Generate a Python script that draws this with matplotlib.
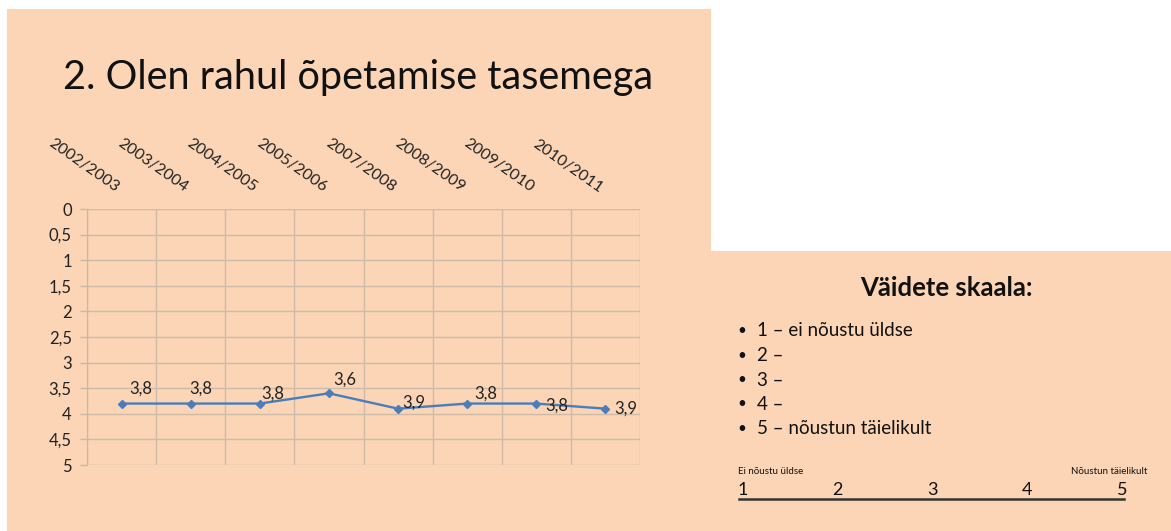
import numpy as np
import matplotlib.pyplot as plt
from matplotlib.patches import Rectangle

# -----------------------------
# Data
# -----------------------------
years = ["2002/2003", "2003/2004", "2004/2005", "2005/2006",
         "2007/2008", "2008/2009", "2009/2010", "2010/2011"]
scores = [3.8, 3.8, 3.8, 3.6, 3.9, 3.8, 3.8, 3.9]
y_ticks = [0, 0.5, 1, 1.5, 2, 2.5, 3, 3.5, 4, 4.5, 5]

scale_title = "Väidete skaala:"
scale_items = ["1 – ei nõustu üldse", "2 –", "3 –", "4 –", "5 – nõustun täielikult"]
scale_nums = ["1", "2", "3", "4", "5"]

# label offsets in points (dx, dy), mimicking Excel placement
label_offsets = [(13.5, 11), (7.5, 11), (9.5, 7), (11.5, 10),
                 (11, 4), (13.5, 7), (15, -1.5), (15, 0)]

W, H = 1171, 531
BG = "#FBD5B5"
FONT = "Lato"
plt.rcParams["font.family"] = [FONT, "DejaVu Sans"]


def fx(x):
    return x / W


def fy(y):
    return 1 - y / H


fig = plt.figure(figsize=(W / 100, H / 100), dpi=100)
fig.patch.set_facecolor("white")

# slide panels
fig.patches.append(Rectangle((fx(7), fy(531)), fx(711) - fx(7), fy(9) - fy(531),
                             transform=fig.transFigure, facecolor=BG, edgecolor="none", zorder=-5))
fig.patches.append(Rectangle((fx(711), fy(531)), fx(1171) - fx(711), fy(251) - fy(531),
                             transform=fig.transFigure, facecolor=BG, edgecolor="none", zorder=-5))

fig.text(fx(358), fy(78), "2. Olen rahul õpetamise tasemega", fontsize=28.5,
         ha="center", va="center", color="#111111")

# -----------------------------
# Line chart
# -----------------------------
ax = fig.add_axes([fx(87), fy(465), fx(640) - fx(87), fy(209) - fy(465)])
ax.set_facecolor("none")

x = np.arange(len(years))
ax.plot(x, scores, color="#4A7EBB", linewidth=1.7, marker="D", markersize=4)

for xi, val, (dx, dy) in zip(x, scores, label_offsets):
    ax.annotate(f"{val:.1f}".replace(".", ","), (xi, val), xytext=(dx, dy),
                textcoords="offset points", ha="center", va="center",
                fontsize=12, color="#222222")

ax.set_xlim(-0.5, len(years) - 0.5)
ax.set_ylim(5, 0)
ax.set_yticks(y_ticks)
ax.set_yticklabels([f"{t:g}".replace(".", ",") for t in y_ticks], fontsize=12, color="#222222")

ax.xaxis.tick_top()
ax.set_xticks(x)
ax.set_xticklabels(years, rotation=-35, ha="right", fontsize=11.5, color="#222222")
ax.set_xticks(np.arange(len(years) + 1) - 0.5, minor=True)
ax.tick_params(axis="x", which="both", length=0, pad=10)
ax.tick_params(axis="y", length=5, width=1, color="#C9B7A6", pad=6)

ax.grid(True, axis="y", which="major", color="#CDBBAA", linewidth=1)
ax.grid(True, axis="x", which="minor", color="#CDBBAA", linewidth=1)
ax.set_axisbelow(True)
for side in ["top", "right", "bottom"]:
    ax.spines[side].set_visible(False)
ax.spines["left"].set_color("#C9B7A6")

# -----------------------------
# Scale panel
# -----------------------------
fig.text(fx(946), fy(288), scale_title, fontsize=18.5, fontweight="bold",
         ha="center", va="center", color="#111111")

for i, item in enumerate(scale_items):
    y = 331 + i * 24.5
    fig.text(fx(742), fy(y), "•", fontsize=11, ha="center", va="center", color="#111111")
    fig.text(fx(757), fy(y), item, fontsize=13.5, ha="left", va="center", color="#111111")

fig.text(fx(738), fy(471), "Ei nõustu üldse", fontsize=7, ha="left", va="center", color="#111111")
fig.text(fx(1147), fy(471), "Nõustun täielikult", fontsize=7, ha="right", va="center", color="#111111")

num_x = np.linspace(743, 1122, len(scale_nums))
for nx, n in zip(num_x, scale_nums):
    fig.text(fx(nx), fy(490), n, fontsize=13, ha="center", va="center", color="#111111")
fig.add_artist(plt.Line2D([fx(739), fx(1124)], [fy(499), fy(499)],
                          transform=fig.transFigure, color="#333333", linewidth=1.8))

fig.savefig("out.png", dpi=100, facecolor=fig.get_facecolor())
